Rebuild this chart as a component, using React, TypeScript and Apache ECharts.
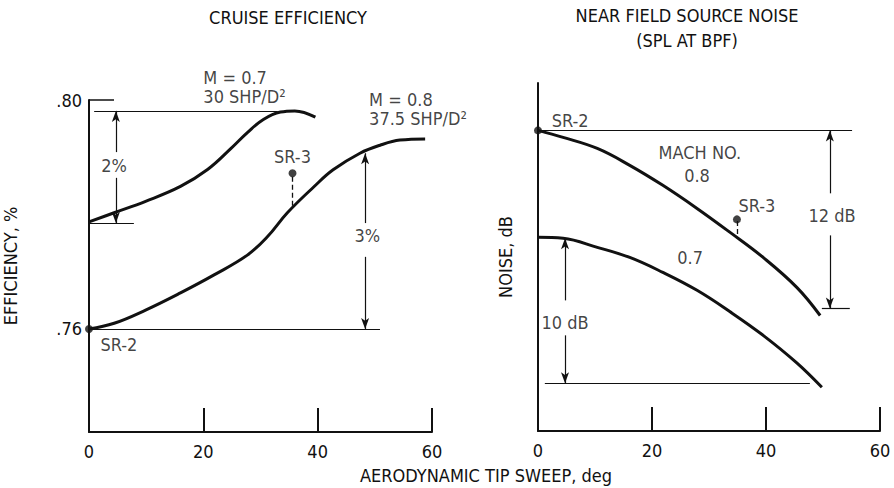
import React, { useEffect, useRef } from 'react';
import * as echarts from 'echarts';

const FONT = "'Liberation Sans Narrow', 'DejaVu Sans Condensed', 'Roboto Condensed', sans-serif";
const INK = '#111111';
const FS = 18;

// ---- data ----
const sweepTicks = [0, 20, 40, 60];
const effLabelValues = [0.76, 0.8];
const effLabelTexts = ['.76', '.80'];

const effSweepM07 = [0, 4.4, 9.9, 16, 20.8, 24.8, 27.7, 30.5, 33.5, 36, 39.6];
const effM07 = [0.7787, 0.7803, 0.7823, 0.7849, 0.7879, 0.7915, 0.7943, 0.7966, 0.7979, 0.7981, 0.797];
const effSweepM08 = [0, 4.4, 9.9, 16, 21.8, 27.7, 31.2, 34.7, 39.3, 42.7, 47.4, 50.9, 54.4, 58.8];
const effM08 = [0.76, 0.761, 0.7633, 0.7663, 0.7694, 0.7729, 0.7761, 0.7803, 0.7848, 0.7878, 0.7907, 0.7921, 0.793, 0.7932];

const noiseSweepM08 = [0, 4.4, 10.4, 16.1, 21.9, 27.9, 33.7, 39.5, 45.4, 49.5];
const noiseM08 = [0, -0.47, -1.22, -2.36, -3.71, -5.27, -6.89, -8.58, -10.6, -12.5];
const noiseSweepM07 = [0, 4.4, 10.4, 16.1, 21.9, 27.9, 33.7, 39.5, 45.4, 49.8];
const noiseM07 = [-7.22, -7.29, -7.9, -8.58, -9.59, -10.8, -12.25, -13.84, -15.7, -17.35];

const effDesignPoints = [[0, 0.76], [35.6, 0.7872]]; // SR-2, SR-3
const noiseDesignPoints = [[0, 0], [34.9, -6.01]];

const zip = (xs: number[], ys: number[]) => xs.map((x, i) => [x, ys[i]]);

type Seg = [number, number, number, number, boolean?, boolean?];
// x1, y1, x2, y2, arrowAtEnd, dashed
const effSegments: Seg[] = [
  [0.9, 0.7981, 33, 0.7981],
  [0, 0.7785, 7.85, 0.7785],
  [4.7, 0.7909, 4.7, 0.7981, true],
  [4.7, 0.7864, 4.7, 0.7785, true],
  [0.35, 0.76, 50.9, 0.76],
  [48.3, 0.7785, 48.3, 0.7907, true],
  [48.3, 0.7726, 48.3, 0.76, true],
  [35.6, 0.7866, 35.6, 0.7813, false, true],
];
const noiseSegments: Seg[] = [
  [0, 0, 55.1, 0],
  [51.2, -4.25, 51.2, 0, true],
  [51.2, -7.09, 51.2, -12.02, true],
  [49.8, -12.02, 54.7, -12.02],
  [4.74, -11.48, 4.74, -7.29, true],
  [4.74, -13.84, 4.74, -17.08, true],
  [1.2, -17.08, 47.7, -17.08],
  [34.9, -6.12, 34.9, -7.2, false, true],
];

type Lbl = [string, number, number, 'left' | 'center'];
const effLabels: Lbl[] = [
  ['M = 0.7\n30 SHP/D²', 20.0, 0.8022, 'left'],
  ['M = 0.8\n37.5 SHP/D²', 49.0, 0.7985, 'left'],
  ['2%', 4.4, 0.7886, 'center'],
  ['3%', 48.7, 0.7764, 'center'],
  ['SR-3', 35.6, 0.7902, 'center'],
  ['SR-2', 2.0, 0.7572, 'left'],
];
const noiseLabels: Lbl[] = [
  ['SR-2', 2.4, 0.68, 'left'],
  ['MACH NO.', 28.4, -1.49, 'center'],
  ['0.8', 27.9, -3.04, 'center'],
  ['SR-3', 38.4, -5.06, 'center'],
  ['12 dB', 51.6, -5.74, 'center'],
  ['10 dB', 4.74, -12.96, 'center'],
  ['0.7', 26.7, -8.57, 'center'],
];

const segData = (segs: Seg[]) =>
  segs.map(([x1, y1, x2, y2, arrow, dashed]) => [
    {
      coord: [x1, y1],
      symbol: 'none',
      lineStyle: { type: dashed ? [5, 3] : 'solid', color: INK, width: dashed ? 1.3 : 1.2 },
    },
    { coord: [x2, y2], symbol: arrow ? 'arrow' : 'none', symbolSize: [6, 11] },
  ]);

const labelData = (lbls: Lbl[]) =>
  lbls.map(([t, x, y, al]) => ({
    value: [x, y],
    label: { formatter: t, align: al },
  }));

const axisText = { color: INK, fontSize: FS, fontFamily: FONT };

function makeOption(): any {
  const xAxisBase = (gridIndex: number) => ({
    type: 'value',
    gridIndex,
    min: 0,
    max: 60,
    interval: 20,
    axisLine: { onZero: false, lineStyle: { color: INK, width: 2 } },
    axisTick: { inside: true, length: 24, lineStyle: { color: INK, width: 2 } },
    splitLine: { show: false },
    axisLabel: { ...axisText, margin: 10, customValues: sweepTicks },
  });
  const curve = (xi: number, data: number[][], extra: any = {}) => ({
    type: 'line',
    xAxisIndex: xi,
    yAxisIndex: xi,
    data,
    showSymbol: false,
    smooth: 0.4,
    clip: false,
    lineStyle: { color: INK, width: 3 },
    ...extra,
  });
  const mark = (segs: Seg[]) => ({
    markLine: {
      silent: true,
      animation: false,
      symbol: ['none', 'none'],
      label: { show: false },
      emphasis: { disabled: true },
      lineStyle: { color: INK, width: 1.2, type: 'solid' },
      data: segData(segs),
    },
  });
  const labels = (xi: number, lbls: Lbl[]) => ({
    type: 'scatter',
    xAxisIndex: xi,
    yAxisIndex: xi,
    symbolSize: 1,
    clip: false,
    silent: true,
    itemStyle: { color: 'rgba(0,0,0,0)' },
    label: {
      show: true,
      position: 'inside',
      verticalAlign: 'middle',
      lineHeight: 19,
      ...axisText,
    },
    data: labelData(lbls),
  });
  const dots = (xi: number, data: number[][]) => ({
    type: 'scatter',
    xAxisIndex: xi,
    yAxisIndex: xi,
    symbolSize: 8,
    clip: false,
    silent: true,
    itemStyle: { color: INK },
    data,
  });

  return {
    animation: false,
    backgroundColor: '#fff',
    grid: [
      { left: 88, right: 462, top: 100, bottom: 56 },
      { left: 538, right: 14, top: 83, bottom: 57 },
    ],
    xAxis: [xAxisBase(0), xAxisBase(1)],
    yAxis: [
      {
        type: 'value',
        gridIndex: 0,
        min: 0.742,
        max: 0.8,
        axisLine: { onZero: false, lineStyle: { color: INK, width: 2 } },
        axisTick: { inside: true, length: 25, customValues: [0.8], lineStyle: { color: INK, width: 1.5 } },
        splitLine: { show: false },
        axisLabel: {
          ...axisText,
          margin: 7,
          customValues: effLabelValues,
          formatter: (v: number) => {
            const i = effLabelValues.findIndex((e) => Math.abs(e - v) < 1e-6);
            return i >= 0 ? effLabelTexts[i] : '';
          },
        },
        name: 'EFFICIENCY, %',
        nameLocation: 'middle',
        nameGap: 70,
        nameRotate: 90,
        nameTextStyle: { ...axisText },
      },
      {
        type: 'value',
        gridIndex: 1,
        min: -20.3,
        max: 3.2,
        axisLine: { onZero: false, lineStyle: { color: INK, width: 2 } },
        axisTick: { show: false },
        splitLine: { show: false },
        axisLabel: { show: false },
        name: 'NOISE, dB',
        nameLocation: 'middle',
        nameGap: 24,
        nameRotate: 90,
        nameTextStyle: { ...axisText },
      },
    ],
    graphic: [
      {
        type: 'text',
        x: 288,
        y: 17,
        style: { text: 'CRUISE EFFICIENCY', align: 'center', verticalAlign: 'middle', fill: INK, fontSize: FS, fontFamily: FONT },
      },
      {
        type: 'text',
        x: 687,
        y: 28,
        style: {
          text: 'NEAR FIELD SOURCE NOISE\n(SPL AT BPF)',
          align: 'center',
          verticalAlign: 'middle',
          lineHeight: 25,
          fill: INK,
          fontSize: FS,
          fontFamily: FONT,
        },
      },
      {
        type: 'text',
        x: 486,
        y: 475,
        style: { text: 'AERODYNAMIC TIP SWEEP, deg', align: 'center', verticalAlign: 'middle', fill: INK, fontSize: FS, fontFamily: FONT },
      },
    ],
    series: [
      curve(0, zip(effSweepM07, effM07), mark(effSegments)),
      curve(0, zip(effSweepM08, effM08)),
      curve(1, zip(noiseSweepM08, noiseM08), mark(noiseSegments)),
      curve(1, zip(noiseSweepM07, noiseM07)),
      dots(0, effDesignPoints),
      dots(1, noiseDesignPoints),
      labels(0, effLabels),
      labels(1, noiseLabels),
    ],
  };
}

export default function App() {
  const ref = useRef<HTMLDivElement>(null);
  useEffect(() => {
    if (!ref.current) return;
    const chart = echarts.init(ref.current, null, { renderer: 'svg' });
    chart.setOption(makeOption());
    return () => chart.dispose();
  }, []);
  return (
    <div
      ref={ref}
      style={{ position: 'fixed', left: 0, top: 0, width: 894, height: 488, background: '#fff' }}
    />
  );
}
